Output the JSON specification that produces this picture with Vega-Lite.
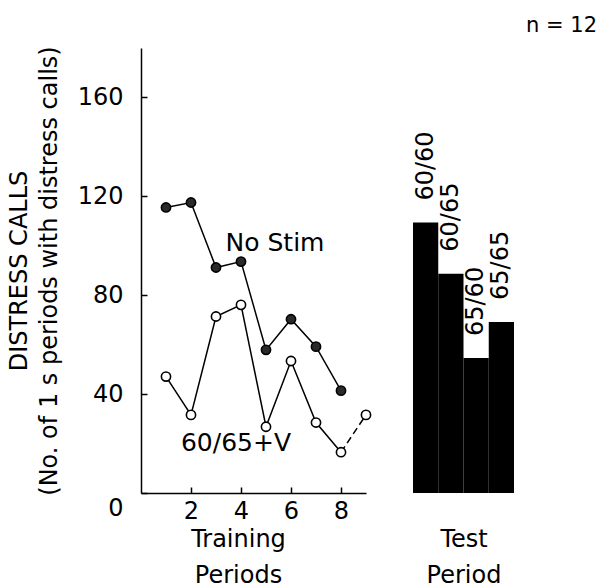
{
  "$schema": "https://vega.github.io/schema/vega-lite/v6.json",
  "padding": {"left": 7, "top": 14, "right": 5, "bottom": 0},
  "background": "white",
  "config": {
    "font": "DejaVu Sans",
    "view": {"stroke": null},
    "concat": {"spacing": 39},
    "axis": {
      "grid": false,
      "domainColor": "black",
      "domainWidth": 1.5,
      "tickColor": "black",
      "tickWidth": 1.5,
      "labelColor": "black",
      "titleColor": "black",
      "labelFont": "DejaVu Sans",
      "titleFont": "DejaVu Sans",
      "labelFontSize": 24,
      "titleFontSize": 24,
      "titleFontWeight": "normal"
    }
  },
  "title": {"text": "n = 12", "anchor": "end", "fontSize": 21, "fontWeight": "normal", "font": "DejaVu Sans", "color": "black", "dx": 83, "offset": 10},
  "datasets": {
    "training": [
      {"series": "No Stim", "period": 1, "calls": 115.5},
      {"series": "No Stim", "period": 2, "calls": 117.5},
      {"series": "No Stim", "period": 3, "calls": 91.2},
      {"series": "No Stim", "period": 4, "calls": 93.6},
      {"series": "No Stim", "period": 5, "calls": 57.9},
      {"series": "No Stim", "period": 6, "calls": 70.3},
      {"series": "No Stim", "period": 7, "calls": 59.2},
      {"series": "No Stim", "period": 8, "calls": 41.4},
      {"series": "60/65+V", "period": 1, "calls": 47.1},
      {"series": "60/65+V", "period": 2, "calls": 31.6},
      {"series": "60/65+V", "period": 3, "calls": 71.4},
      {"series": "60/65+V", "period": 4, "calls": 76.1},
      {"series": "60/65+V", "period": 5, "calls": 26.8},
      {"series": "60/65+V", "period": 6, "calls": 53.4},
      {"series": "60/65+V", "period": 7, "calls": 28.5},
      {"series": "60/65+V", "period": 8, "calls": 16.5},
      {"series": "60/65+V", "period": 9, "calls": 31.6}
    ],
    "labels": [
      {"label": "No Stim", "period": 5.36, "calls": 101},
      {"label": "60/65+V", "period": 3.8, "calls": 20.2}
    ],
    "test": [
      {"condition": "60/60", "calls": 109.4},
      {"condition": "60/65", "calls": 88.7},
      {"condition": "65/60", "calls": 54.6},
      {"condition": "65/65", "calls": 69.2}
    ]
  },
  "hconcat": [
    {
      "width": 225,
      "height": 445,
      "layer": [
        {
          "data": {"name": "training"},
          "transform": [{"filter": "datum.series == 'No Stim' || datum.period <= 8"}],
          "mark": {"type": "line", "color": "black", "strokeWidth": 1.5},
          "encoding": {
            "x": {
              "field": "period",
              "type": "quantitative",
              "scale": {"domain": [0, 9], "nice": false},
              "axis": {
                "values": [2, 4, 6, 8],
                "tickSize": -6,
                "labelPadding": 12,
                "title": ["Training", "Periods"],
                "titleLineHeight": 36,
                "titleY": 34,
                "titleX": 97,
                "titleBaseline": "top"
              }
            },
            "y": {
              "field": "calls",
              "type": "quantitative",
              "scale": {"domain": [0, 180], "nice": false},
              "axis": {
                "values": [0, 40, 80, 120, 160],
                "tickSize": -6,
                "labelPadding": 24,
                "labelOffset": {"condition": {"test": "datum.value == 0", "value": 15}, "value": 0},
                "title": ["DISTRESS CALLS", "(No. of 1 s periods with distress calls)"],
                "titleLineHeight": 30,
                "titlePadding": 16
              }
            },
            "detail": {"field": "series"}
          }
        },
        {
          "data": {"name": "training"},
          "transform": [{"filter": "datum.series == '60/65+V' && datum.period >= 8"}],
          "mark": {"type": "line", "color": "black", "strokeWidth": 1.5, "strokeDash": [7, 4]},
          "encoding": {
            "x": {"field": "period", "type": "quantitative"},
            "y": {"field": "calls", "type": "quantitative"}
          }
        },
        {
          "data": {"name": "training"},
          "mark": {"type": "point", "shape": "circle", "size": 85, "filled": true, "stroke": "black", "strokeWidth": 1.6, "opacity": 1},
          "encoding": {
            "x": {"field": "period", "type": "quantitative"},
            "y": {"field": "calls", "type": "quantitative"},
            "fill": {
              "field": "series",
              "type": "nominal",
              "scale": {"domain": ["No Stim", "60/65+V"], "range": ["#2a2a2a", "white"]},
              "legend": null
            }
          }
        },
        {
          "data": {"name": "labels"},
          "mark": {"type": "text", "fontSize": 25, "align": "center", "baseline": "middle", "color": "black"},
          "encoding": {
            "x": {"field": "period", "type": "quantitative"},
            "y": {"field": "calls", "type": "quantitative"},
            "text": {"field": "label"}
          }
        }
      ]
    },
    {
      "width": 101,
      "height": 445,
      "data": {"name": "test"},
      "encoding": {
        "x": {
          "field": "condition",
          "type": "nominal",
          "sort": null,
          "scale": {"paddingInner": 0, "paddingOuter": 0},
          "axis": {
            "labels": false,
            "ticks": false,
            "domain": false,
            "title": ["Test", "Period"],
            "titleLineHeight": 36,
            "titleY": 34,
            "titleBaseline": "top"
          }
        },
        "y": {
          "field": "calls",
          "type": "quantitative",
          "scale": {"domain": [0, 180], "nice": false},
          "axis": null
        }
      },
      "layer": [
        {
          "mark": {"type": "bar", "color": "black"}
        },
        {
          "mark": {"type": "text", "angle": 270, "align": "left", "baseline": "middle", "dx": 22, "fontSize": 24, "color": "black"},
          "encoding": {"text": {"field": "condition"}}
        }
      ]
    }
  ]
}
